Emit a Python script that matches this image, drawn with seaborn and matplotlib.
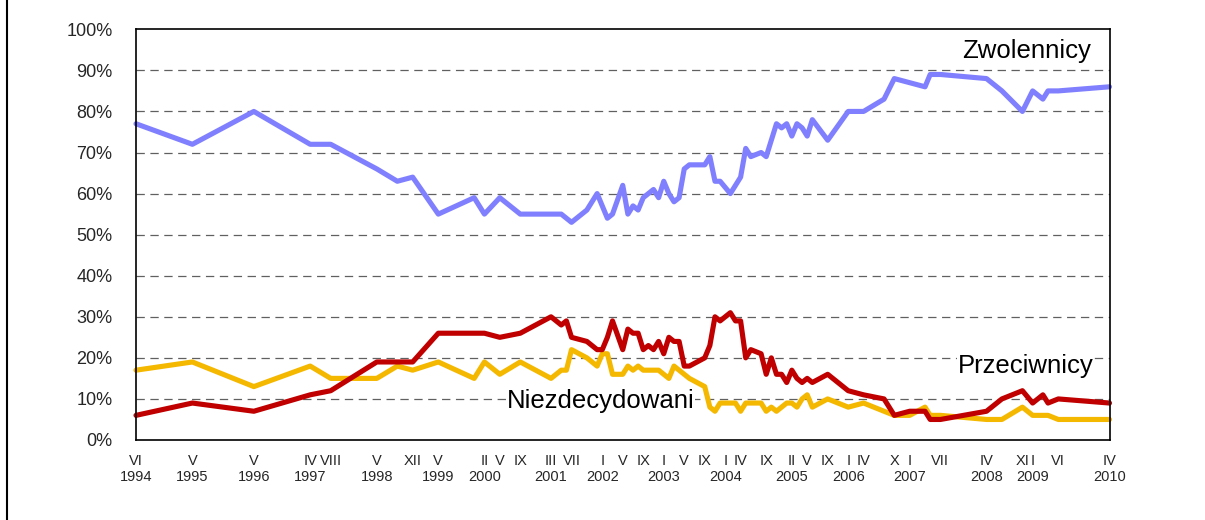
import matplotlib
matplotlib.use("Agg")
import numpy as np
import pandas as pd
import seaborn as sns
import matplotlib.pyplot as plt
from matplotlib.lines import Line2D

# ---------------- data ----------------
dates = ["1994-06", "1995-05", "1996-05", "1997-04", "1997-08", "1998-05", "1998-09", "1998-12", "1999-05", "1999-12",
         "2000-02", "2000-05", "2000-09", "2001-03", "2001-05", "2001-06", "2001-07", "2001-10", "2001-12", "2002-01",
         "2002-02", "2002-03", "2002-05", "2002-06", "2002-07", "2002-08", "2002-09", "2002-10", "2002-11", "2002-12",
         "2003-01", "2003-02", "2003-03", "2003-04", "2003-05", "2003-06", "2003-09", "2003-10", "2003-11", "2003-12",
         "2004-02", "2004-03", "2004-04", "2004-05", "2004-06", "2004-08", "2004-09", "2004-10", "2004-11", "2004-12",
         "2005-01", "2005-02", "2005-03", "2005-04", "2005-05", "2005-06", "2005-09", "2006-01", "2006-04", "2006-08",
         "2006-10", "2007-01", "2007-04", "2007-05", "2007-07", "2008-04", "2008-07", "2008-11", "2009-01", "2009-03",
         "2009-04", "2009-06", "2010-04"]

zwolennicy = [77, 72, 80, 72, 72, 66, 63, 64, 55, 59,
              55, 59, 55, 55, 55, 54, 53, 56, 60, 57,
              54, 55, 62, 55, 57, 56, 59, 60, 61, 59,
              63, 60, 58, 59, 66, 67, 67, 69, 63, 63,
              60, 62, 64, 71, 69, 70, 69, 73, 77, 76,
              77, 74, 77, 76, 74, 78, 73, 80, 80, 83,
              88, 87, 86, 89, 89, 88, 85, 80, 85, 83,
              85, 85, 86]

przeciwnicy = [6, 9, 7, 11, 12, 19, 19, 19, 26, 26,
               26, 25, 26, 30, 28, 29, 25, 24, 22, 22,
               25, 29, 22, 27, 26, 26, 22, 23, 22, 24,
               21, 25, 24, 24, 18, 18, 20, 23, 30, 29,
               31, 29, 29, 20, 22, 21, 16, 20, 16, 16,
               14, 17, 15, 14, 15, 14, 16, 12, 11, 10,
               6, 7, 7, 5, 5, 7, 10, 12, 9, 11,
               9, 10, 9]

niezdecydowani = [17, 19, 13, 18, 15, 15, 18, 17, 19, 15,
                  19, 16, 19, 15, 17, 17, 22, 20, 18, 21,
                  21, 16, 16, 18, 17, 18, 17, 17, 17, 17,
                  16, 15, 18, 17, 16, 15, 13, 8, 7, 9,
                  9, 9, 7, 9, 9, 9, 7, 8, 7, 8,
                  9, 9, 8, 10, 11, 8, 10, 8, 9, 7,
                  6, 6, 8, 6, 6, 5, 5, 8, 6, 6,
                  6, 5, 5]

tick_dates = ["1994-06", "1995-05", "1996-05", "1997-04", "1997-08", "1998-05", "1998-12", "1999-05",
              "2000-02", "2000-05", "2000-09", "2001-03", "2001-07", "2002-01", "2002-05", "2002-09",
              "2003-01", "2003-05", "2003-09", "2004-01", "2004-04", "2004-09", "2005-02", "2005-05",
              "2005-09", "2006-01", "2006-04", "2006-10", "2007-01", "2007-07", "2008-04", "2008-11",
              "2009-01", "2009-06", "2010-04"]
tick_roman = ["VI", "V", "V", "IV", "VIII", "V", "XII", "V",
              "II", "V", "IX", "III", "VII", "I", "V", "IX",
              "I", "V", "IX", "I", "IV", "IX", "II", "V",
              "IX", "I", "IV", "X", "I", "VII", "IV", "XI",
              "I", "VI", "IV"]
tick_years = ["1994", "1995", "1996", "1997", "", "1998", "", "1999",
              "2000", "", "", "2001", "", "2002", "", "",
              "2003", "", "", "2004", "", "", "2005", "",
              "", "2006", "", "", "2007", "", "2008", "",
              "2009", "", "2010"]

series_names = ["Zwolennicy", "Przeciwnicy", "Niezdecydowani"]
colors = {"Zwolennicy": "#8080FF", "Przeciwnicy": "#C00000", "Niezdecydowani": "#F5B800"}


def month_index(s):
    y, m = map(int, s.split("-"))
    return (y - 1994) * 12 + (m - 6)


x = [month_index(d) for d in dates]
df = pd.DataFrame({"x": x,
                   "Zwolennicy": zwolennicy,
                   "Przeciwnicy": przeciwnicy,
                   "Niezdecydowani": niezdecydowani})
long = df.melt(id_vars="x", var_name="series", value_name="value")

# ---------------- style ----------------
sns.set_style("white")
plt.rcParams["font.family"] = ["Liberation Sans", "DejaVu Sans"]
plt.rcParams["lines.scale_dashes"] = False

fig = plt.figure(figsize=(12.05, 5.2), dpi=100)
ax = fig.add_axes([136 / 1205, 80 / 520, 973.5 / 1205, 410.7 / 520])

ax.set_xlim(0, 190)
ax.set_ylim(0, 100)

# dashed gridlines
ax.set_yticks(range(0, 101, 10))
ax.set_yticklabels([f"{v}%" for v in range(0, 101, 10)])
for v in range(10, 100, 10):
    ax.axhline(v, color="#606060", lw=0.9, ls=(0, (6, 4)), zorder=1)

sns.lineplot(data=long, x="x", y="value", hue="series",
             hue_order=["Niezdecydowani", "Przeciwnicy", "Zwolennicy"],
             palette=colors, linewidth=3.7, legend=False, ax=ax,
             estimator=None, sort=True)
for ln in ax.get_lines():
    if ln.get_linewidth() > 3:
        ln.set_clip_on(False)
        ln.set_solid_joinstyle("round")
        ln.set_solid_capstyle("round")
        ln.set_zorder(3)

ax.set_xticks([month_index(d) for d in tick_dates])
ax.set_xticklabels([r + ("\n" + y if y else "") for r, y in zip(tick_roman, tick_years)],
                   linespacing=1.15)
ax.tick_params(axis="x", length=0, pad=10, labelsize=10.5)
ax.tick_params(axis="y", length=0, pad=17, labelsize=13)
for lab in ax.get_xticklabels():
    lab.set_verticalalignment("top")
ax.set_xlabel("")
ax.set_ylabel("")

for sp in ax.spines.values():
    sp.set_visible(True)
    sp.set_color("black")
    sp.set_linewidth(1.2)
    sp.set_zorder(4)

# series labels
ax.text(186.3, 93.0, "Zwolennicy", ha="right", va="baseline", fontsize=18.5, color="black")
ax.text(186.9, 16.3, "Przeciwnicy", ha="right", va="baseline", fontsize=18.5, color="black",
        bbox=dict(facecolor="white", edgecolor="none", pad=0.5))
ax.text(72.3, 7.8, "Niezdecydowani", ha="left", va="baseline", fontsize=18.5, color="black",
        zorder=2, bbox=dict(facecolor="white", edgecolor="none", pad=0.5))

# left frame border of the chart area
fig.add_artist(Line2D([7.5 / 1205, 7.5 / 1205], [0, 1], transform=fig.transFigure,
                      color="black", lw=1.5))

fig.savefig("out.png", dpi=100)
